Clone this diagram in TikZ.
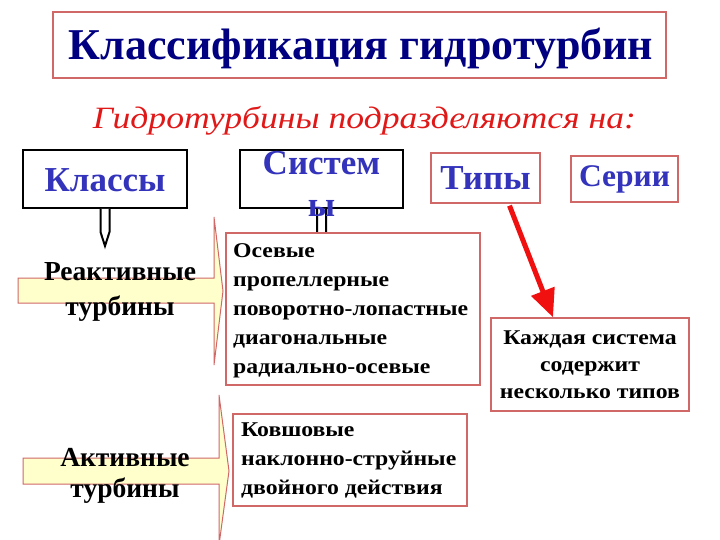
\documentclass[tikz,border=0pt]{standalone}
\usepackage{fontspec}
\setmainfont{Liberation Serif}
\newfontfamily\widebody[FakeStretch=1.13]{Liberation Serif}
\newfontfamily\wideital[FakeStretch=1.15]{Liberation Serif}
\usetikzlibrary{arrows.meta}
\definecolor{navy}{HTML}{000080}
\definecolor{hblue}{HTML}{3333BB}
\definecolor{boxred}{HTML}{D06868}
\definecolor{subred}{HTML}{E01818}
\definecolor{arrred}{HTML}{F01010}
\definecolor{pale}{HTML}{FFFFCC}
\tikzset{
  redbox/.style={draw=boxred, line width=1.3pt, fill=white, inner sep=0pt},
  blackbox/.style={draw=black, line width=2.6pt, fill=white, inner sep=0pt},
  headtext/.style={text=hblue, font=\fontsize{35}{35}\selectfont\bfseries, inner sep=0pt},
  bodytext/.style={text=black, font=\widebody\fontsize{21}{29}\selectfont\bfseries, inner sep=0pt, align=left},
  tail/.style={draw=black, line width=2pt, fill=white, line join=miter},
  blockarrow/.style={draw=boxred, line width=1pt, fill=pale, line join=miter},
  arrowtext/.style={text=black, font=\fontsize{27.5}{35}\selectfont\bfseries, inner sep=0pt, align=center},
}
\begin{document}
\begin{tikzpicture}[x=1pt,y=-1pt]
\useasboundingbox (0,0) rectangle (720,540);
\fill[white] (0,0) rectangle (720,540);

% title
\node[redbox, minimum width=613pt, minimum height=66pt] (title) at (359.5,45) {};
\node[text=navy, inner sep=0pt, font=\fontsize{44}{44}\selectfont\bfseries] (titlet) at (361,49) {Классификация гидротурбин};
\node[text=subred, font=\wideital\fontsize{31}{31}\selectfont\itshape, inner sep=0pt] (sub) at (364.5,121) {Гидротурбины подразделяются на:};

% block arrows
\path[blockarrow] (18,278) -- (214,278) -- (214,217) -- (223,291) -- (214,365) -- (214,303) -- (18,303) -- cycle;
\node[arrowtext] (react) at (120,292) {Реактивные\\турбины};
\path[blockarrow] (23,458) -- (219,458) -- (219,395) -- (229,471) -- (219,545) -- (219,484) -- (23,484) -- cycle;
\node[arrowtext, font=\fontsize{27.5}{31}\selectfont\bfseries] (act) at (125,476) {Активные\\турбины};

% header boxes
\node[blackbox, minimum width=164pt, minimum height=58pt] (klass) at (105,179) {};
\node[headtext] (klasst) at (105,180) {Классы};
\path[tail] (100.5,209) -- (100.5,232) -- (105,246) -- (109.5,232) -- (109.5,209);
\node[blackbox, minimum width=163pt, minimum height=58pt] (sys) at (321.5,179) {};
\path[tail] (317,209) -- (317,232) -- (321.5,244) -- (326,232) -- (326,209);
\node[headtext, align=center, font=\fontsize{35}{42}\selectfont\bfseries] (syst) at (321.5,184) {Систем\\ы};
\node[redbox, minimum width=109pt, minimum height=50pt, headtext, fill=white] (types) at (485.5,178) {Типы};
\node[redbox, minimum width=107pt, minimum height=46pt, text=hblue, font=\fontsize{31.5}{31.5}\selectfont\bfseries] (ser) at (624.5,179) {Серии};

% content boxes
\node[redbox, minimum width=254pt, minimum height=152pt] (axial) at (353,309) {};
\node[bodytext, anchor=north west] (axialt) at (233,243) {Осевые\\пропеллерные\\поворотно-лопастные\\диагональные\\радиально-осевые};
\node[redbox, minimum width=234pt, minimum height=92pt] (bucket) at (350,460) {};
\node[bodytext, anchor=north west] (buckett) at (241,423) {Ковшовые\\наклонно-струйные\\двойного действия};
\node[redbox, minimum width=198pt, minimum height=93pt, text=black,
      font=\widebody\fontsize{21}{27}\selectfont\bfseries, align=center] (each) at (590,364.5) {Каждая система\\содержит\\несколько типов};

% red arrow
\draw[arrred, line width=5pt, -{Triangle[length=28pt,width=24pt]}] (types.south) ++(24,2) -- (each.north -| 553,0);
\end{tikzpicture}
\end{document}
